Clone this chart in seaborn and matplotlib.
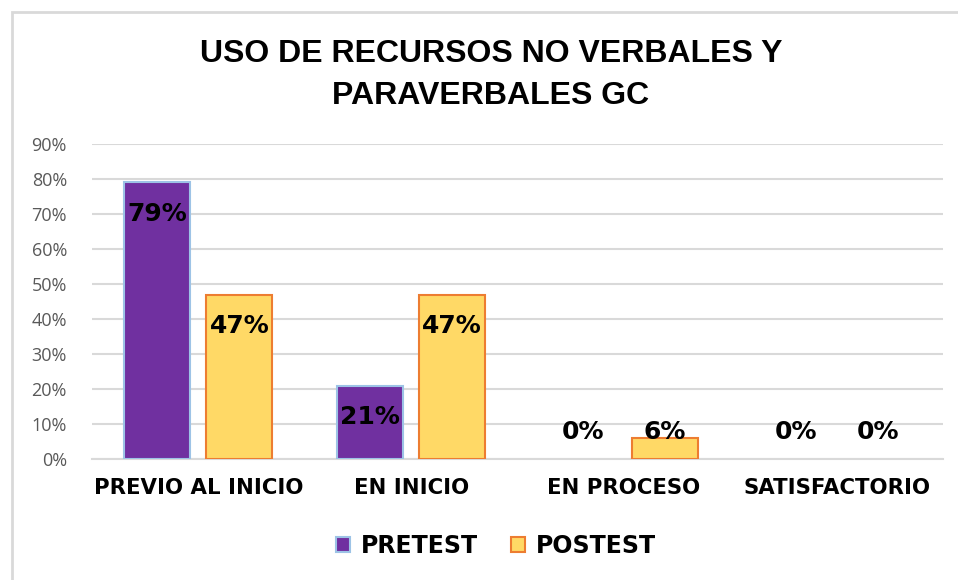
import matplotlib
matplotlib.use("Agg")
import matplotlib.pyplot as plt
import seaborn as sns
import pandas as pd
from matplotlib.patches import Rectangle, Patch

categories = ["PREVIO AL INICIO", "EN INICIO", "EN PROCESO", "SATISFACTORIO"]
series = ["PRETEST", "POSTEST"]
pretest = [79, 21, 0, 0]
postest = [47, 47, 6, 0]
yticks = [0, 10, 20, 30, 40, 50, 60, 70, 80, 90]
title = "USO DE RECURSOS NO VERBALES Y\nPARAVERBALES GC"

fills = {"PRETEST": "#7030A0", "POSTEST": "#FFD966"}
edges = {"PRETEST": "#9DC3E6", "POSTEST": "#ED7D31"}

df = pd.DataFrame({
    "cat": categories * 2,
    "serie": [series[0]] * 4 + [series[1]] * 4,
    "val": pretest + postest,
})

sns.set_theme(style="white")
plt.rcParams['font.family'] = ['Liberation Sans', 'DejaVu Sans']
plt.rcParams['text.color'] = 'black'

BOLD = ['DejaVu Sans', 'Liberation Sans']

fig = plt.figure(figsize=(9.58, 5.80), dpi=100)
ax = fig.add_axes([92 / 958, 1 - 459 / 580, (943 - 92) / 958, (459 - 144) / 580])

sns.barplot(data=df, x="cat", y="val", hue="serie", order=categories,
            hue_order=series, palette=fills, width=0.771, gap=0.196,
            saturation=1, legend=False, ax=ax, zorder=3)

# edges per series
for i, cont in enumerate(ax.containers):
    s = series[i]
    vals = pretest if i == 0 else postest
    for p, v in zip(cont, vals):
        p.set_edgecolor(edges[s])
        p.set_linewidth(1.5 if v > 0 else 0)

# data labels
for i, cont in enumerate(ax.containers):
    vals = pretest if i == 0 else postest
    for p, v in zip(cont, vals):
        xc = p.get_x() + p.get_width() / 2
        ylab = max(v - 8.9, 7.7)
        ax.text(xc, ylab, f"{v}%", ha="center", va="center",
                fontsize=18, fontweight="heavy", color="black", zorder=5,
                family=BOLD)

ax.set_ylim(0, 90)
ax.set_xlim(-0.5, 3.5)
ax.set_yticks(yticks)
ax.set_yticklabels([f"{t}%" for t in yticks], color="#595959", fontsize=13,
                   family=['Open Sans', 'DejaVu Sans'])
ax.set_xticks(range(len(categories)))
ax.set_xticklabels(categories, fontsize=15.3, fontweight="bold", color="black",
                   family=BOLD)
ax.tick_params(axis="y", length=0, pad=18)
ax.tick_params(axis="x", length=0, pad=14)
ax.set_xlabel("")
ax.set_ylabel("")
ax.grid(axis="y", color="#D9D9D9", linewidth=1.5, zorder=0)
ax.set_axisbelow(True)
for sp in ["left", "right", "top"]:
    ax.spines[sp].set_visible(False)
ax.spines["bottom"].set_color("#D9D9D9")
ax.spines["bottom"].set_linewidth(1.5)

fig.text(491 / 958, 1 - 75 / 580, title, ha="center", va="center",
         fontsize=23, fontweight="bold", linespacing=1.5, color="black",
         family=['Liberation Sans Narrow', 'Liberation Sans', 'DejaVu Sans'])

handles = [Patch(facecolor=fills[s], edgecolor=edges[s], linewidth=1.5) for s in series]
leg = fig.legend(handles, series, loc="center", bbox_to_anchor=(496 / 958, 1 - 546 / 580),
                 ncol=2, frameon=False, handlelength=0.6, handleheight=0.6,
                 handletextpad=0.45, columnspacing=1.4,
                 prop={"size": 17, "weight": "bold", "family": BOLD})
for t in leg.get_texts():
    t.set_color("black")

# outer chart frame
fig.patches.append(Rectangle((12 / 958, -0.1), 1.2, 1 - 12 / 580 + 0.1,
                             transform=fig.transFigure, fill=False,
                             edgecolor="#D9D9D9", linewidth=2, zorder=0))

fig.savefig("out.png", dpi=100)
